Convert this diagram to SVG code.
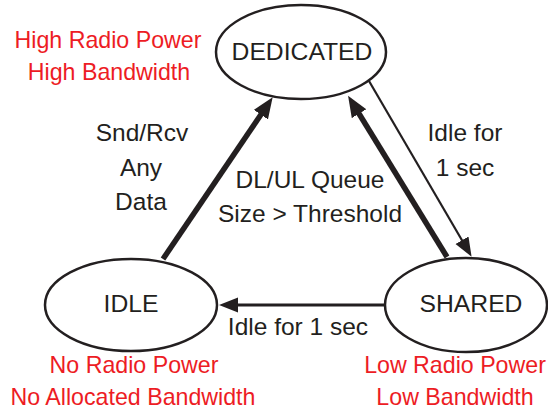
<svg xmlns="http://www.w3.org/2000/svg" width="548" height="413" viewBox="0 0 548 413">
<style>
.node{fill:#fff;stroke:#231f20;stroke-width:2.5}
.name{font-family:"Liberation Sans",Arial,sans-serif;font-size:24.7px;fill:#231f20;text-anchor:middle}
.lbl{font-family:"Liberation Sans",Arial,sans-serif;font-size:24.5px;fill:#231f20;text-anchor:middle}
.red{font-family:"Liberation Sans",Arial,sans-serif;font-size:23.2px;fill:#ed1c24;text-anchor:middle}
.thick{stroke:#231f20;stroke-width:5.5;fill:none}
.thin{stroke:#231f20;stroke-width:2.2;fill:none}
.mid{stroke:#231f20;stroke-width:2.8;fill:none}
</style>
<defs>
<marker id="headL" markerUnits="userSpaceOnUse" markerWidth="24" markerHeight="20" refX="2" refY="8.5" orient="auto">
<path d="M0,0 L21,8.5 L0,17 z" fill="#231f20"/>
</marker>
<marker id="headS" markerUnits="userSpaceOnUse" markerWidth="22" markerHeight="18" refX="2" refY="7.5" orient="auto">
<path d="M0,0 L19,7.5 L0,15 z" fill="#231f20"/>
</marker>
</defs>
<g id="connectors">
<line class="thick" x1="163" y1="259" x2="262" y2="113" marker-end="url(#headL)"/>
<line class="thick" x1="447" y1="257" x2="358" y2="112" marker-end="url(#headL)"/>
<line class="thin" x1="369" y1="81" x2="463" y2="242" marker-end="url(#headS)"/>
<line class="mid" x1="386" y1="305" x2="236" y2="305" marker-end="url(#headS)"/>
<text class="lbl" x="142" y="141">Snd/Rcv</text>
<text class="lbl" x="141" y="176">Any</text>
<text class="lbl" x="141" y="210">Data</text>
<text class="lbl" x="310" y="188">DL/UL Queue</text>
<text class="lbl" x="310" y="222">Size &gt; Threshold</text>
<text class="lbl" x="465" y="141">Idle for</text>
<text class="lbl" x="465" y="176">1 sec</text>
<text class="lbl" x="298" y="335">Idle for 1 sec</text>
</g>
<g id="dedicated">
<ellipse class="node" cx="301" cy="52" rx="85" ry="47"/>
<text class="name" x="302" y="60">DEDICATED</text>
<text class="red" x="108" y="48">High Radio Power</text>
<text class="red" x="109" y="80">High Bandwidth</text>
</g>
<g id="idle">
<ellipse class="node" cx="131" cy="305" rx="86" ry="46"/>
<text class="name" x="131" y="312">IDLE</text>
<text class="red" x="134" y="373">No Radio Power</text>
<text class="red" x="133" y="405">No Allocated Bandwidth</text>
</g>
<g id="shared">
<ellipse class="node" cx="466" cy="305" rx="81" ry="47"/>
<text class="name" x="471" y="312">SHARED</text>
<text class="red" x="455" y="373">Low Radio Power</text>
<text class="red" x="455" y="405">Low Bandwidth</text>
</g>
</svg>
